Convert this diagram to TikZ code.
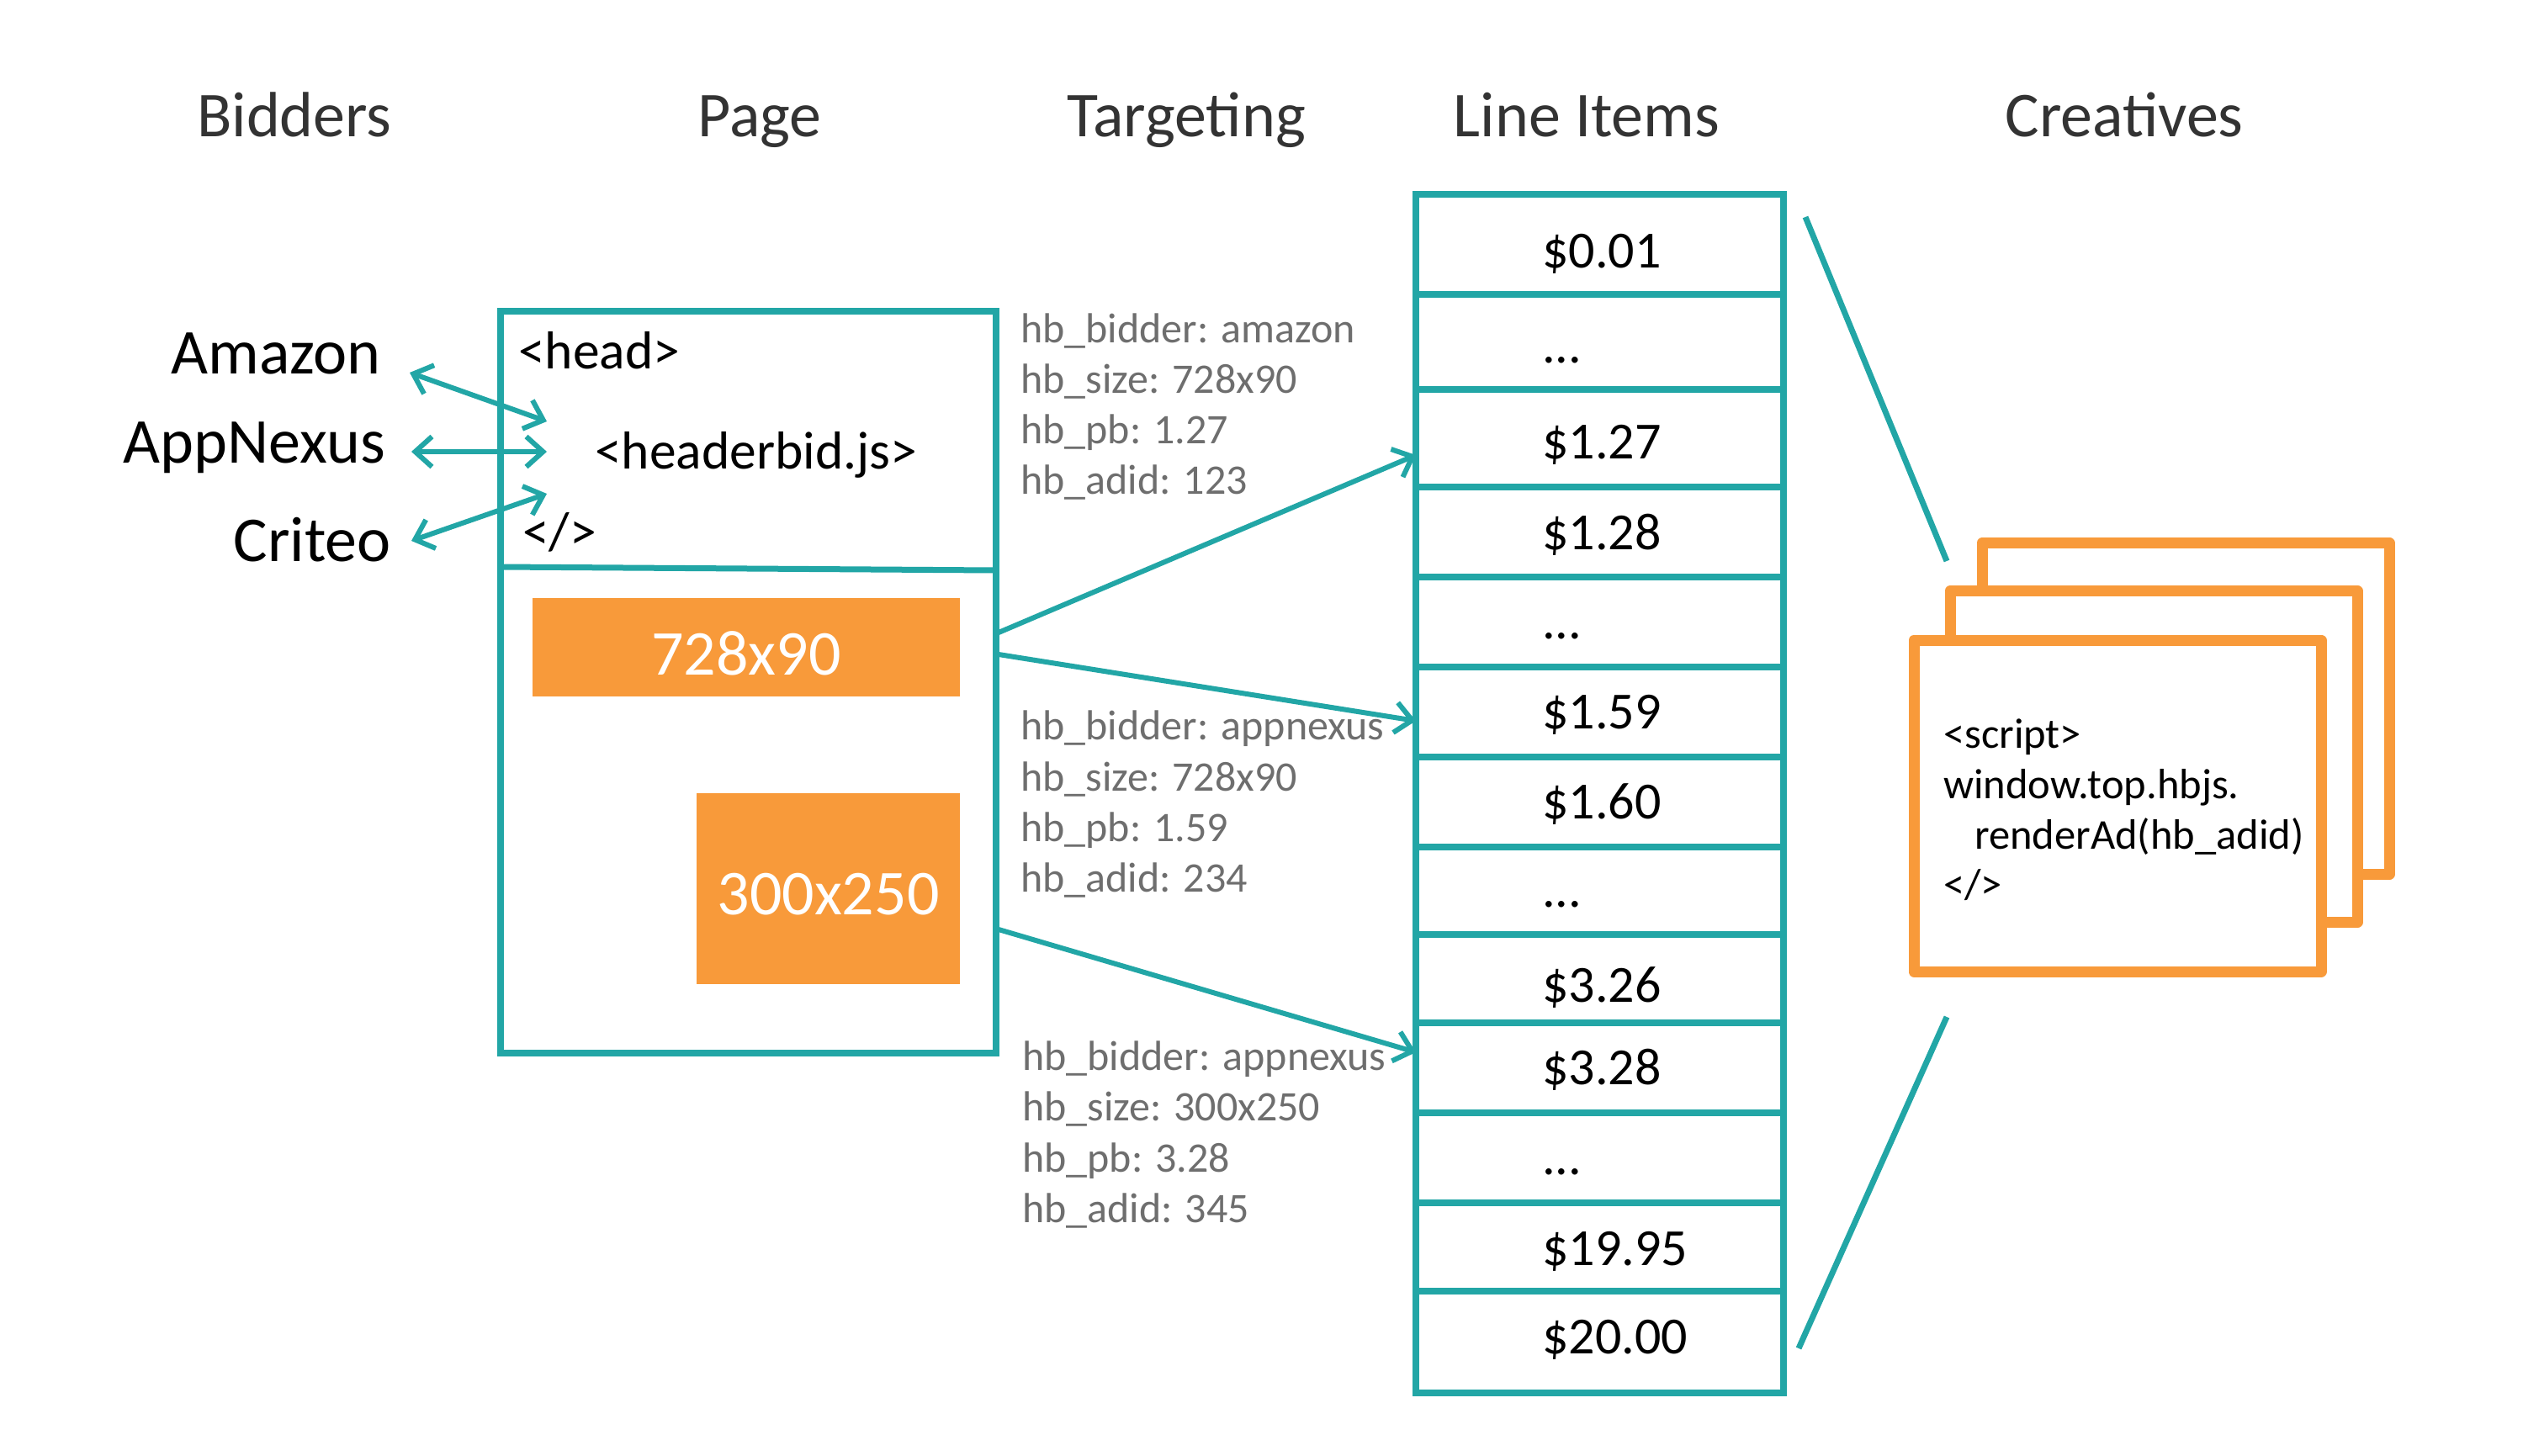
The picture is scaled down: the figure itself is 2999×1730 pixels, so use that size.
\documentclass[tikz,border=0pt]{standalone}
\usepackage{fontspec}
\setmainfont{Carlito}
\usetikzlibrary{arrows.meta}
\definecolor{hbteal}{RGB}{34,166,166}
\definecolor{hborange}{RGB}{248,154,58}
\definecolor{titlegray}{RGB}{51,51,51}
\definecolor{tgtgray}{RGB}{110,110,110}
\newcommand\tridots{.\kern0pt.\kern0pt.}
\begin{document}
\begin{tikzpicture}[x=1pt,y=-1pt,
  title/.style={font=\fontsize{76pt}{90pt}\selectfont, text=titlegray, anchor=base, inner sep=0pt},
  bidder/.style={font=\fontsize{76pt}{90pt}\selectfont, anchor=base east, inner sep=0pt},
  code/.style={font=\fontsize{63.5pt}{74pt}\selectfont, anchor=base west, inner sep=0pt},
  tgt/.style={font=\fontsize{50pt}{60pt}\selectfont, text=tgtgray, anchor=base west, inner sep=0pt},
  price/.style={font=\fontsize{62pt}{74pt}\selectfont, anchor=base west, inner sep=0pt},
  script/.style={font=\fontsize{50.5pt}{60pt}\selectfont, anchor=base west, inner sep=0pt},
  rowbox/.style={draw=hbteal, line width=8pt, minimum width=437pt, inner sep=0pt, outer sep=0pt},
  slot/.style={fill=hborange, inner sep=0pt, outer sep=0pt},
  slottext/.style={text=white, font=\fontsize{76pt}{90pt}\selectfont, inner sep=0pt},
  frame/.style={draw=hborange, fill=white, line width=13pt, line join=round, minimum width=484pt, minimum height=394pt, inner sep=0pt, outer sep=0pt},
  dblarr/.style={draw=hbteal, line width=6pt, arrows={Straight Barb[length=20pt,width=36pt]-Straight Barb[length=20pt,width=36pt]}},
  arr/.style={draw=hbteal, line width=6pt, arrows={-Straight Barb[length=20pt,width=36pt]}},
  zoomline/.style={draw=hbteal, line width=7pt}
]
\fill[white] (0,0) rectangle (2999,1730);
\useasboundingbox (0,0) rectangle (2999,1730);

% titles
\node[title] (tBidders) at (350,162) {Bidders};
\node[title] (tPage) at (903,162) {Page};
\node[title] (tTarget) at (1410,162) {Targeting};
\node[title] (tLines) at (1886,162) {Line Items};
\node[title] (tCreat) at (2525,162) {Creatives};

% bidders
\node[bidder] (amazon) at (453,444) {Amazon};
\node[bidder] (appnexus) at (458,550) {AppNexus};
\node[bidder] (criteo) at (465,667) {Criteo};

% page
\node[draw=hbteal, line width=8pt, minimum width=589pt, minimum height=882pt, inner sep=0pt, outer sep=0pt] (page) at (889.5,811) {};
\coordinate (divL) at (595,674);
\coordinate (divR) at (1184,678);
\draw[hbteal, line width=7pt] (divL) -- (divR);
\node[code] (head) at (616,438) {<head>};
\node[code] (hbjs) at (707,557) {<headerbid.js>};
\node[code] (hclose) at (621,653) {</>};
\node[slot, minimum width=508pt, minimum height=117pt] (s728) at (887,769.5) {};
\node[slottext] (l728) at ([yshift=-7pt]s728.center) {728x90};
\node[slot, minimum width=313pt, minimum height=227pt] (s300) at (984.5,1056.5) {};
\node[slottext] (l300) at ([yshift=-7pt]s300.center) {300x250};

% bidder arrows
\coordinate (amzL) at (487,443);
\coordinate (amzR) at (650,501);
\coordinate (apnL) at (489,537);
\coordinate (apnR) at (650,537);
\coordinate (crtL) at (489,643);
\coordinate (crtR) at (650,587);
\draw[dblarr] (amzL) -- (amzR);
\draw[dblarr] (apnL) -- (apnR);
\draw[dblarr] (crtL) -- (crtR);

% line items
\foreach \i/\t/\b/\bl/\lab in {1/231/350/318/\$0.01, 2/350/463/431/\tridots, 3/463/579/545/\$1.27, 4/579/686/653/\$1.28, 5/686/793/759/\tridots, 6/793/900/866/\$1.59, 7/900/1007/973/\$1.60, 8/1007/1111/1078/\tridots, 9/1111/1216/1191/\$3.26, 10/1216/1323/1289/\$3.28, 11/1323/1430/1396/\tridots, 12/1430/1535/1504/\$19.95, 13/1535/1656/1609/\$20.00} {
  \node[rowbox, minimum height={(\b-\t)*1pt}] (r\i) at (1901.5,{(\t+\b)/2}) {};
  \node[price] (p\i) at (1833,\bl) {\lab};
}

% targeting texts
\foreach \j/\y/\txt in {1/407/hb\_bidder: amazon, 2/467/hb\_size: 728x90, 3/527/hb\_pb: 1.27, 4/587/hb\_adid: 123}
  \node[tgt] (ta\j) at (1213,\y) {\txt};
\foreach \j/\y/\txt in {1/879/hb\_bidder: appnexus, 2/940/hb\_size: 728x90, 3/1000/hb\_pb: 1.59, 4/1060/hb\_adid: 234}
  \node[tgt] (tb\j) at (1213,\y) {\txt};
\foreach \j/\y/\txt in {1/1272/hb\_bidder: appnexus, 2/1332/hb\_size: 300x250, 3/1393/hb\_pb: 3.28, 4/1453/hb\_adid: 345}
  \node[tgt] (tc\j) at (1215,\y) {\txt};

% targeting arrows
\coordinate (y1s) at (0,752);
\coordinate (y1e) at (0,541);
\coordinate (y2s) at (0,778);
\coordinate (y2e) at (0,857);
\coordinate (y3s) at (0,1105);
\coordinate (y3e) at (0,1251);
\draw[arr] ([xshift=3pt]page.east |- y1s) -- (r3.west |- y1e);
\draw[arr] ([xshift=3pt]page.east |- y2s) -- (r6.west |- y2e);
\draw[arr] ([xshift=3pt]page.east |- y3s) -- (r10.west |- y3e);

% creatives
\node[frame] (cr3) at (2598,842.5) {};
\node[frame] (cr2) at (2560,899.5) {};
\node[frame] (cr1) at (2517,958) {};
\node[script] (sc1) at (2310,889) {<script>};
\node[script] (sc2) at (2310,949) {window.top.hbjs.};
\node[script] (sc3) at (2347,1009) {renderAd(hb\_adid)};
\node[script] (sc4) at (2310,1068) {</>};

% zoom lines
\coordinate (zt1) at (2146,258);
\coordinate (zt2) at (2314,667);
\coordinate (zb1) at (2314,1209);
\coordinate (zb2) at (2138,1603);
\draw[zoomline] (zt1) -- (zt2);
\draw[zoomline] (zb1) -- (zb2);
\end{tikzpicture}
\end{document}
